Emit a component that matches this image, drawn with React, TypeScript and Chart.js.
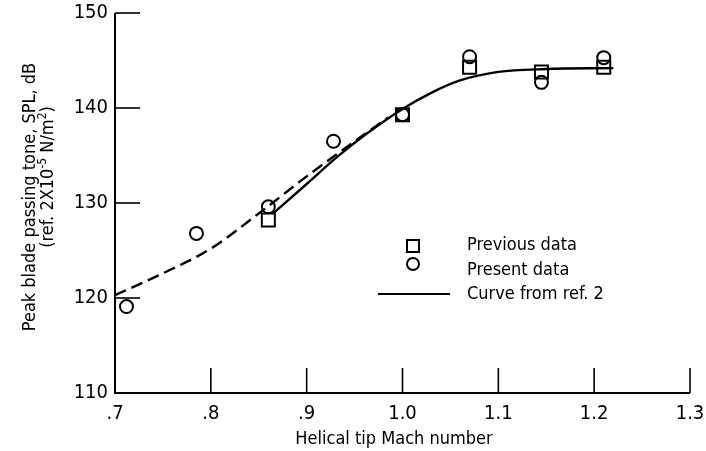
import React, { useEffect, useRef } from "react";
import { Chart, registerables } from "chart.js";

Chart.register(...registerables);

// ---------- data ----------
const xTickValues = [0.7, 0.8, 0.9, 1.0, 1.1, 1.2, 1.3];
const yTickValues = [110, 120, 130, 140, 150];

const previousMach = [0.86, 1.0, 1.07, 1.145, 1.21];
const previousSPL = [128.2, 139.3, 144.3, 143.8, 144.3];

const presentMach = [0.712, 0.785, 0.86, 0.928, 1.0, 1.07, 1.145, 1.21];
const presentSPL = [119.1, 126.8, 129.6, 136.5, 139.3, 145.4, 142.7, 145.3];

const dashedMach = [0.7, 0.75, 0.8, 0.85, 0.9, 0.95, 0.985];
const dashedSPL = [120.3, 122.6, 125.2, 128.9, 132.8, 136.5, 139.0];

const curveMach = [0.865, 0.9, 0.93, 0.96, 1.0, 1.03, 1.06, 1.1, 1.15, 1.22];
const curveSPL = [128.9, 132.0, 134.7, 137.1, 139.9, 141.6, 142.9, 143.8, 144.1, 144.2];

const legendLabels = ["Previous data", "Present data", "Curve from ref. 2"];
const xTitle = "Helical tip Mach number";
const yTitleLine1 = "Peak blade passing tone, SPL, dB";

const FONT = "'Liberation Sans Narrow', 'DejaVu Sans Condensed', 'Roboto Condensed', sans-serif";

const toPoints = (xs: number[], ys: number[]) => xs.map((x, i) => ({ x, y: ys[i] }));

const decorPlugin = {
  id: "decor",
  afterDraw(chart: any) {
    const ctx = chart.ctx as CanvasRenderingContext2D;
    const xs = chart.scales.x;
    const ys = chart.scales.y;
    const left = xs.getPixelForValue(0.7);
    const right = xs.getPixelForValue(1.3);
    const top = ys.getPixelForValue(150);
    const bottom = ys.getPixelForValue(110);
    ctx.save();
    ctx.strokeStyle = "#000";
    ctx.fillStyle = "#000";
    ctx.lineCap = "butt";
    // axes
    ctx.lineWidth = 2;
    ctx.beginPath();
    ctx.moveTo(left, top);
    ctx.lineTo(left, bottom);
    ctx.lineTo(right, bottom);
    ctx.stroke();
    // inward ticks
    ctx.lineWidth = 1.6;
    yTickValues.forEach((v) => {
      if (v === 110) return;
      const py = ys.getPixelForValue(v);
      ctx.beginPath();
      ctx.moveTo(left, py);
      ctx.lineTo(left + 25, py);
      ctx.stroke();
    });
    xTickValues.forEach((v) => {
      if (v === 0.7) return;
      const px = xs.getPixelForValue(v);
      ctx.beginPath();
      ctx.moveTo(px, bottom);
      ctx.lineTo(px, bottom - 25);
      ctx.stroke();
    });

    // legend
    const lx = 413;
    const tx = 467;
    ctx.lineWidth = 2;
    ctx.strokeRect(lx - 6, 246 - 6, 12, 12);
    ctx.beginPath();
    ctx.arc(lx, 264, 6, 0, Math.PI * 2);
    ctx.stroke();
    ctx.lineWidth = 2;
    ctx.beginPath();
    ctx.moveTo(378, 294);
    ctx.lineTo(450, 294);
    ctx.stroke();
    ctx.font = `18px ${FONT}`;
    ctx.textAlign = "left";
    ctx.textBaseline = "alphabetic";
    ctx.fillText(legendLabels[0], tx, 250);
    ctx.fillText(legendLabels[1], tx, 275);
    ctx.fillText(legendLabels[2], tx, 299);

    // x title
    ctx.textAlign = "center";
    ctx.font = `18px ${FONT}`;
    ctx.fillText(xTitle, 394, 444);

    // y title
    ctx.save();
    ctx.translate(30, 197);
    ctx.rotate(-Math.PI / 2);
    ctx.textAlign = "center";
    ctx.textBaseline = "middle";
    ctx.font = `18px ${FONT}`;
    ctx.fillText(yTitleLine1, 0, 0);
    ctx.restore();

    ctx.save();
    ctx.translate(47, 177);
    ctx.rotate(-Math.PI / 2);
    ctx.textBaseline = "alphabetic";
    ctx.textAlign = "left";
    const big = `18px ${FONT}`;
    const small = `12px ${FONT}`;
    const parts: [string, string, number][] = [
      ["(ref. 2X10", big, 0],
      ["-5", small, -7],
      [" N/m", big, 0],
      ["2", small, -7],
      [")", big, 0],
    ];
    let total = 0;
    parts.forEach(([t, f]) => {
      ctx.font = f;
      total += ctx.measureText(t).width;
    });
    let cx = -total / 2;
    parts.forEach(([t, f, dy]) => {
      ctx.font = f;
      ctx.fillText(t, cx, 6 + dy);
      cx += ctx.measureText(t).width;
    });
    ctx.restore();

    ctx.restore();
  },
};

export default function App() {
  const ref = useRef<HTMLCanvasElement | null>(null);
  useEffect(() => {
    if (!ref.current) return;
    const chart = new Chart(ref.current, {
      type: "line",
      data: {
        datasets: [
          {
            label: "Curve from ref. 2",
            data: toPoints(curveMach, curveSPL),
            borderColor: "#000",
            borderWidth: 2.4,
            pointRadius: 0,
            cubicInterpolationMode: "monotone",
            fill: false,
          },
          {
            label: "Fit",
            data: toPoints(dashedMach, dashedSPL),
            borderColor: "#000",
            borderWidth: 2.4,
            borderDash: [12, 6],
            pointRadius: 0,
            cubicInterpolationMode: "monotone",
            fill: false,
          },
          {
            label: "Previous data",
            data: toPoints(previousMach, previousSPL),
            showLine: false,
            pointStyle: "rect",
            pointRadius: 9.2,
            pointBorderWidth: 2,
            pointBorderColor: "#000",
            pointBackgroundColor: "rgba(0,0,0,0)",
          },
          {
            label: "Present data",
            data: toPoints(presentMach, presentSPL),
            showLine: false,
            pointStyle: "circle",
            pointRadius: 6.5,
            pointBorderWidth: 2,
            pointBorderColor: "#000",
            pointBackgroundColor: "rgba(0,0,0,0)",
          },
        ],
      },
      options: {
        responsive: false,
        animation: false,
        devicePixelRatio: 1,
        layout: { padding: { top: 13, right: 16, left: 0, bottom: 0 } },
        plugins: {
          legend: { display: false },
          tooltip: { enabled: false },
        },
        scales: {
          x: {
            type: "linear",
            min: 0.7,
            max: 1.3,
            grid: { display: false, drawTicks: false },
            border: { display: false },
            ticks: {
              stepSize: 0.1,
              autoSkip: false,
              maxRotation: 0,
              padding: 9,
              color: "#000",
              font: { family: FONT, size: 20 },
              callback: (v: any) => {
                const s = Number(v).toFixed(1);
                return s.startsWith("0") ? s.slice(1) : s;
              },
            },
            afterFit: (s: any) => {
              s.height = 58;
              s.paddingLeft = 0;
              s.paddingRight = 0;
            },
          },
          y: {
            min: 110,
            max: 150,
            grid: { display: false, drawTicks: false },
            border: { display: false },
            ticks: {
              stepSize: 10,
              padding: 7,
              color: "#000",
              font: { family: FONT, size: 20 },
            },
            afterFit: (s: any) => {
              s.width = 115;
              s.paddingTop = 0;
              s.paddingBottom = 0;
            },
          },
        },
      },
      plugins: [decorPlugin],
    });
    return () => chart.destroy();
  }, []);
  return (
    <div style={{ position: "fixed", left: 0, top: 0, width: 706, height: 451, background: "#fff" }}>
      <canvas ref={ref} width={706} height={451} />
    </div>
  );
}
